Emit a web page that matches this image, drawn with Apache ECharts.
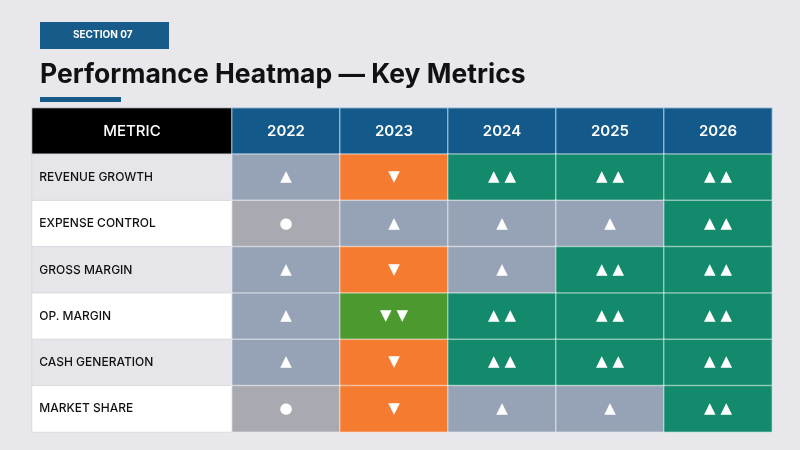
<!DOCTYPE html>
<html lang="en">
<head>
  <meta charset="UTF-8" />
  <title>Performance Heatmap</title>
  <script src="https://cdn.jsdelivr.net/npm/echarts@6/dist/echarts.min.js"></script>
  <style>
    body { margin: 0; padding: 0; background: #e8e7eb; }
    #chart { width: 800px; height: 450px; }
  </style>
</head>
<body>
  <div id="chart"></div>
  <script>
    // years across the top, metrics down the side
    const years = ["2022", "2023", "2024", "2025", "2026"];
    const metrics = ["REVENUE GROWTH", "EXPENSE CONTROL", "GROSS MARGIN", "OP. MARGIN", "CASH GENERATION", "MARKET SHARE"];

    // score per metric / year: 2 = ▲▲, 1 = ▲, 0 = ●, -1 = ▼, -2 = ▼▼
    const revenueGrowth  = [1, -1, 2, 2, 2];
    const expenseControl = [0, 1, 1, 1, 2];
    const grossMargin    = [1, -1, 1, 2, 2];
    const opMargin       = [1, -2, 2, 2, 2];
    const cashGeneration = [1, -1, 2, 2, 2];
    const marketShare    = [0, -1, 1, 1, 2];

    const scores = [revenueGrowth, expenseControl, grossMargin, opMargin, cashGeneration, marketShare];

    const symbols = { "2": "▲ ▲", "1": "▲", "0": "●", "-1": "▼", "-2": "▼ ▼" };
    const colors = { "2": "#138a6c", "1": "#96a3b6", "0": "#a9aab1", "-1": "#f47b30", "-2": "#4b992f" };

    // header row sits in the same grid as the data rows
    const rows = ["HEADER"].concat(metrics);

    const cellData = [];
    scores.forEach((row, r) => {
      row.forEach((v, c) => {
        cellData.push({
          value: [c, r + 1, v],
          itemStyle: { color: colors[String(v)] },
          label: { formatter: symbols[String(v)] }
        });
      });
    });

    const headerData = years.map((y, c) => ({ value: [c, 0, 0], label: { formatter: y } }));

    const metricData = [{ value: [0, 0, 0], itemStyle: { color: "#000000" },
      label: { formatter: "METRIC", position: "inside", color: "#fff", fontSize: 15, fontWeight: 500 } }];
    metrics.forEach((m, r) => {
      metricData.push({
        value: [0, r + 1, 0],
        itemStyle: { color: r % 2 === 0 ? "#e6e5e9" : "#ffffff" },
        label: { formatter: m }
      });
    });

    const chart = echarts.init(document.getElementById("chart"));

    chart.setOption({
      backgroundColor: "#e8e7eb",
      animation: false,
      textStyle: { fontFamily: "Inter, 'Noto Sans', sans-serif" },
      title: {
        text: "Performance Heatmap — Key Metrics",
        left: 40,
        top: 62,
        padding: 0,
        textStyle: { fontSize: 26.5, fontWeight: 700, color: "#111111", fontFamily: "Inter, sans-serif" }
      },
      graphic: [
        { type: "rect", left: 40, top: 22, shape: { width: 129, height: 27 }, style: { fill: "#175b8b" } },
        { type: "text", left: 73, top: 30, style: { text: "SECTION 07", fill: "#ffffff", font: "bold 10px Inter, sans-serif" } },
        { type: "rect", left: 40, top: 97, shape: { width: 81, height: 5 }, style: { fill: "#175b8b" } }
      ],
      grid: [
        { left: 32, width: 200, top: 108, bottom: 18 },
        { left: 232, right: 28, top: 108, bottom: 18 }
      ],
      xAxis: [
        { gridIndex: 0, type: "category", data: ["METRIC"], show: false },
        { gridIndex: 1, type: "category", data: years, show: false }
      ],
      yAxis: [
        { gridIndex: 0, type: "category", data: rows, inverse: true, show: false },
        { gridIndex: 1, type: "category", data: rows, inverse: true, show: false }
      ],
      series: [
        {
          name: "Metric",
          type: "heatmap",
          xAxisIndex: 0,
          yAxisIndex: 0,
          data: metricData,
          itemStyle: { borderColor: "#d9d9de", borderWidth: 1 },
          label: { show: true, position: "insideLeft", distance: 8, color: "#111111", fontSize: 12, fontWeight: 500 },
          emphasis: { disabled: true }
        },
        {
          name: "Year",
          type: "heatmap",
          xAxisIndex: 1,
          yAxisIndex: 1,
          data: headerData,
          itemStyle: { color: "#135a8a", borderColor: "rgba(200,220,240,0.6)", borderWidth: 1.5 },
          label: { show: true, color: "#ffffff", fontSize: 15, fontWeight: 600 },
          emphasis: { disabled: true }
        },
        {
          name: "Score",
          type: "heatmap",
          xAxisIndex: 1,
          yAxisIndex: 1,
          data: cellData,
          itemStyle: { borderColor: "rgba(255,255,255,0.45)", borderWidth: 1.5 },
          label: { show: true, color: "#ffffff", fontSize: 15, fontFamily: "'DejaVu Sans', sans-serif" },
          emphasis: { disabled: true }
        }
      ]
    });
  </script>
</body>
</html>
